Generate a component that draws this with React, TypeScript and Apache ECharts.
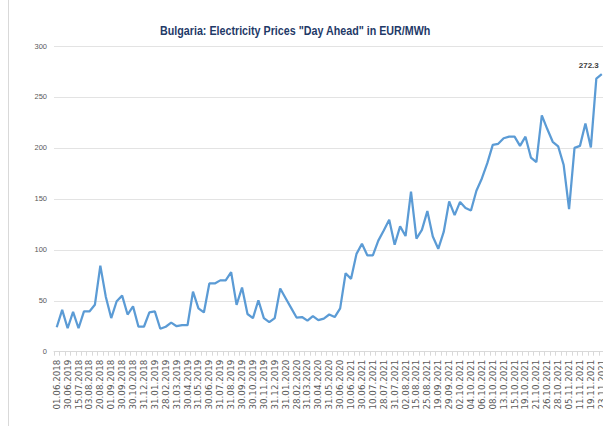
import React, { useEffect, useRef } from "react";
import * as echarts from "echarts";

const titleText = 'Bulgaria: Electricity Prices "Day Ahead" in EUR/MWh';

const tickLabels: string[] = [
  "01.06.2018", "30.06.2019", "15.07.2018", "03.08.2018", "20.08.2018", "01.09.2018",
  "30.09.2018", "30.10.2018", "31.12.2018", "31.01.2019", "28.02.2019", "31.03.2019",
  "30.04.2019", "31.05.2019", "30.06.2019", "31.07.2019", "31.08.2019", "30.09.2019",
  "30.10.2019", "30.11.2019", "31.12.2019", "31.01.2020", "28.02.2020", "31.03.2020",
  "30.04.2020", "31.05.2020", "30.06.2020", "10.06.2021", "30.06.2021", "10.07.2021",
  "28.07.2021", "31.07.2021", "02.08.2021", "15.08.2021", "25.08.2021", "19.09.2021",
  "29.09.2021", "02.10.2021", "04.10.2021", "06.10.2021", "08.10.2021", "13.10.2021",
  "15.10.2021", "19.10.2021", "21.10.2021", "26.10.2021", "28.10.2021", "05.11.2021",
  "11.11.2021", "19.11.2021", "23.11.2021",
];

const prices: number[] = [
  24, 41, 23, 39, 23, 39.5, 39.5, 46, 84.5, 54,
  33, 49.5, 55, 36.5, 44.5, 24.5, 24.5, 38.5, 39.5, 22.5,
  24.5, 28.5, 25, 26, 26, 59, 42.5, 38.5, 67, 67,
  70, 70, 78, 46, 63, 37, 33, 50.5, 33, 29,
  33, 62, 52.5, 43, 33.5, 34, 30.5, 35, 31, 32.5,
  36.5, 34, 42.5, 77, 71.5, 96, 106, 94.5, 94.5, 109,
  119, 129.5, 105, 123, 113.5, 157, 111, 119.5, 138, 113,
  101, 117.5, 147.5, 134, 147, 141, 138.5, 158, 170, 185,
  203, 204, 209.5, 211, 211, 202, 211, 190.5, 186, 232,
  218.5, 206, 201.5, 183.5, 140, 200, 202, 224, 200.5, 268,
  272.3,
];

const yTicks = { min: 0, max: 300, interval: 50 };

export default function App() {
  const ref = useRef<HTMLDivElement>(null);

  useEffect(() => {
    if (!ref.current) return;
    const chart = echarts.init(ref.current, undefined, { renderer: "svg" });

    const titleFont = 'bold 13px "Liberation Sans"';
    let sx = 1;
    try {
      const ctx = document.createElement("canvas").getContext("2d");
      if (ctx) {
        ctx.font = titleFont;
        const w = ctx.measureText(titleText).width;
        if (w > 0) sx = 271 / w;
      }
    } catch (e) {}

    const categories = prices.map((_, i) => String(i));
    const lastIdx = prices.length - 1;

    chart.setOption({
      animation: false,
      backgroundColor: "#ffffff",
      grid: { left: 54, right: 5.5, top: 46, bottom: 74.3, containLabel: false },
      graphic: [
        {
          type: "line",
          shape: { x1: 8.5, y1: 0, x2: 8.5, y2: 426 },
          style: { stroke: "#d9d9d9", lineWidth: 1 },
        },
        {
          type: "text",
          x: 160,
          y: 31,
          scaleX: sx,
          style: {
            text: titleText,
            font: titleFont,
            fill: "#1f3a68",
            textVerticalAlign: "middle",
          },
        },
      ],
      xAxis: {
        type: "category",
        data: categories,
        boundaryGap: true,
        axisLine: { show: true, lineStyle: { color: "#d9d9d9", width: 1 } },
        axisTick: {
          show: true,
          interval: 0,
          length: 4,
          alignWithLabel: false,
          lineStyle: { color: "#d9d9d9" },
        },
        axisLabel: {
          interval: 0,
          rotate: 90,
          margin: 8,
          fontSize: 8.7,
          fontFamily: "DejaVu Sans",
          color: "#595959",
          formatter: (_v: string, idx: number) => (idx % 2 === 0 ? tickLabels[idx / 2] ?? "" : ""),
        },
        splitLine: { show: false },
      },
      yAxis: {
        type: "value",
        min: yTicks.min,
        max: yTicks.max,
        interval: yTicks.interval,
        axisLine: { show: false },
        axisTick: { show: false },
        axisLabel: {
          margin: 7,
          fontSize: 7.5,
          fontFamily: "Liberation Sans",
          color: "#595959",
        },
        splitLine: { show: true, lineStyle: { color: "#e3e3e3", width: 1 } },
      },
      series: [
        {
          type: "line",
          data: prices,
          showSymbol: false,
          symbol: "none",
          lineStyle: { color: "#5b9bd5", width: 2.25 },
          itemStyle: { color: "#5b9bd5" },
          markPoint: {
            symbol: "circle",
            symbolSize: 0,
            silent: true,
            itemStyle: { color: "rgba(0,0,0,0)" },
            label: {
              show: true,
              position: "top",
              distance: 5,
              offset: [-13, 0],
              formatter: (p: any) => String(p.value),
              fontSize: 8,
              fontWeight: "bold",
              fontFamily: "Liberation Sans",
              color: "#404040",
            },
            data: [{ coord: [categories[lastIdx], prices[lastIdx]], value: prices[lastIdx] }],
          },
        },
      ],
    });

    return () => chart.dispose();
  }, []);

  return (
    <div
      style={{
        position: "absolute",
        left: 0,
        top: 0,
        width: 603,
        height: 426,
        overflow: "hidden",
        background: "#fff",
      }}
    >
      <div ref={ref} style={{ width: 610, height: 426 }} />
    </div>
  );
}
